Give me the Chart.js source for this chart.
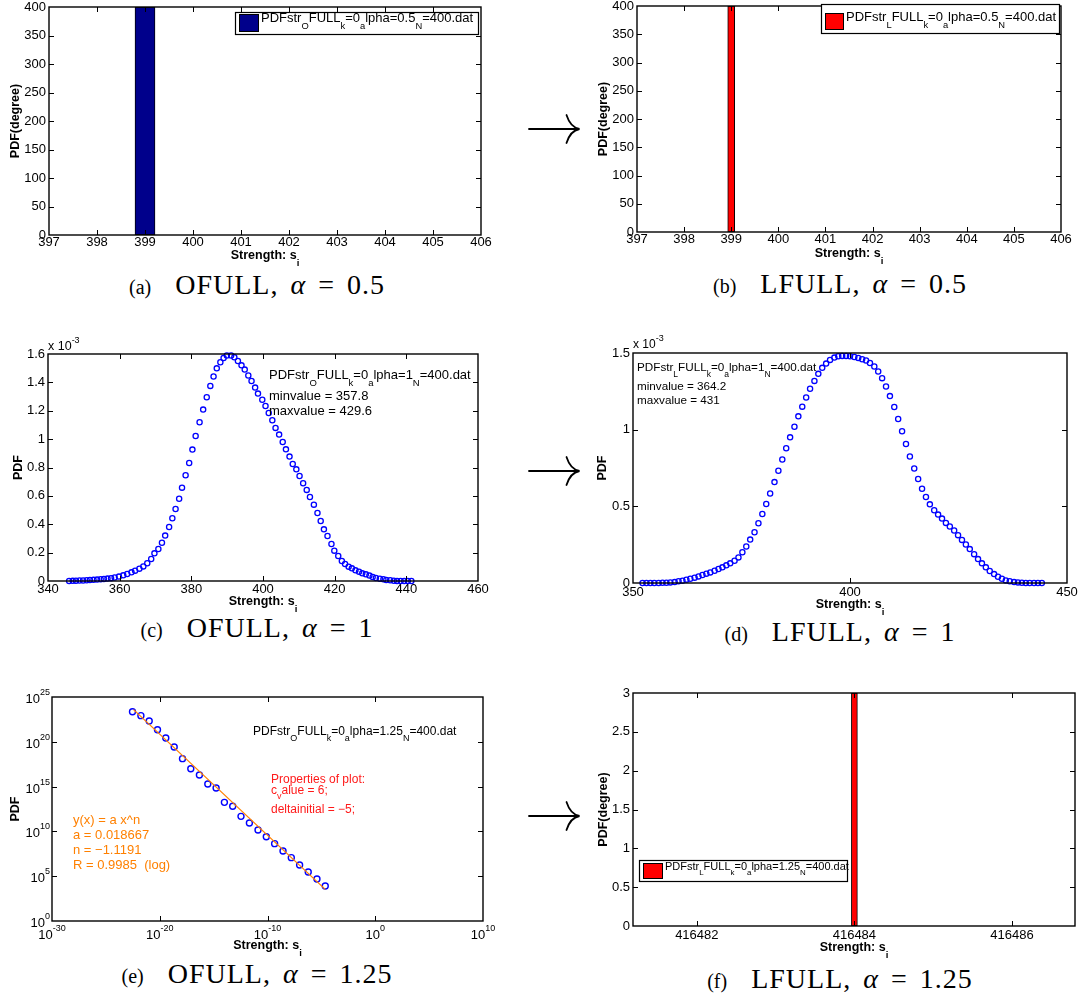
<!DOCTYPE html>
<html><head><meta charset="utf-8">
<script src="https://cdn.jsdelivr.net/npm/chart.js@4.4.1/dist/chart.umd.min.js"></script>
<style>
html,body{margin:0;padding:0;background:#fff;}
#wrap{position:relative;width:1088px;height:995px;overflow:hidden;background:#fff;}
#wrap canvas{position:absolute;left:0;top:0;}
.cap{position:absolute;width:400px;text-align:center;font-family:"Liberation Serif",serif;font-size:28px;line-height:1;white-space:nowrap;letter-spacing:1px;word-spacing:4px;color:#000;}
.cap .lb{font-size:20px;letter-spacing:0;word-spacing:0;}
#arrows{position:absolute;left:0;top:0;}
</style></head>
<body>
<div id="wrap">
<svg id="arrows" width="1088" height="995" xmlns="http://www.w3.org/2000/svg">
 <g fill="none" stroke="#000" stroke-width="1.8" stroke-linecap="round">
  <path d="M529 129 H578 M566.5 115 C569 123 574 128 579.5 129 C574 130 569 135 566.5 143"/>
  <path d="M529 471 H578 M566.5 457 C569 465 574 470 579.5 471 C574 472 569 477 566.5 485"/>
  <path d="M529 816 H578 M566.5 802 C569 810 574 815 579.5 816 C574 817 569 822 566.5 830"/>
 </g>
</svg>
<div class="cap" style="left:57px;top:270.5px"><span class="lb">(a)</span>&nbsp; OFULL, <i>α</i> = 0.5</div>
<div class="cap" style="left:640px;top:269.5px"><span class="lb">(b)</span>&nbsp; LFULL, <i>α</i> = 0.5</div>
<div class="cap" style="left:57px;top:614px"><span class="lb">(c)</span>&nbsp; OFULL, <i>α</i> = 1</div>
<div class="cap" style="left:640px;top:618px"><span class="lb">(d)</span>&nbsp; LFULL, <i>α</i> = 1</div>
<div class="cap" style="left:57px;top:959.5px"><span class="lb">(e)</span>&nbsp; OFULL, <i>α</i> = 1.25</div>
<div class="cap" style="left:640px;top:964.5px"><span class="lb">(f)</span>&nbsp; LFULL, <i>α</i> = 1.25</div>
</div>
<script>
// ---------------- DATA ----------------
// (a) OFULL alpha=0.5 : histogram bar
const aX = [399];
const aY = [400];
// (b) LFULL alpha=0.5
const bX = [399];
const bY = [400];
// shared ticks for (a),(b)
const abXTicks = [397, 398, 399, 400, 401, 402, 403, 404, 405, 406];
const abYTicks = [0, 50, 100, 150, 200, 250, 300, 350, 400];

// (c) OFULL alpha=1 : PDF (values in units of 1e-3)
const cX = [345.9,346.9,347.8,348.8,349.8,350.8,351.7,352.7,353.7,354.7,355.6,356.6,357.6,358.6,
 359.8,361.0,362.1,363.3,364.3,365.5,366.6,367.7,368.8,369.7,370.8,371.8,372.7,373.8,374.7,375.6,
 376.6,377.4,378.4,379.4,380.3,381.2,382.3,383.3,384.3,385.3,386.2,387.1,388.1,389.0,389.9,391.1,
 392.0,393.0,394.0,394.9,395.9,396.8,397.8,398.6,399.8,400.7,401.6,402.6,403.5,404.5,405.5,406.4,
 407.4,408.3,409.3,410.2,411.2,412.2,413.1,414.2,415.2,416.1,417.0,418.0,419.1,419.9,421.0,422.0,
 422.9,423.9,424.8,425.8,426.8,427.7,428.7,429.7,430.6,431.5,432.6,433.6,434.4,435.5,436.5,437.4,
 438.4,439.4,440.4,441.4];
const cY = [0.000,0.001,0.002,0.003,0.004,0.005,0.007,0.008,0.010,0.012,0.014,0.017,0.020,0.025,
 0.031,0.040,0.049,0.061,0.073,0.087,0.103,0.125,0.155,0.195,
 0.226,0.270,0.320,0.381,0.442,0.508,0.580,0.658,0.745,0.832,
 0.926,1.022,1.119,1.208,1.295,1.375,1.441,1.499,1.542,1.572,
 1.589,1.589,1.577,1.551,1.520,1.490,1.448,1.410,1.363,1.321,
 1.278,1.234,1.184,1.133,1.079,1.032,0.980,0.928,0.877,0.825,
 0.787,0.740,0.689,0.642,0.592,0.538,0.479,0.423,0.364,0.317,
 0.261,0.214,0.176,0.141,0.120,0.101,0.089,0.075,0.066,0.054,
 0.047,0.038,0.028,0.021,0.016,0.012,0.007,0.005,0.002,0,0,0,0,0];
const cXTicks = [340, 360, 380, 400, 420, 440, 460];
const cYTicks = [0, 0.2, 0.4, 0.6, 0.8, 1, 1.2, 1.4, 1.6];

// (d) LFULL alpha=1 : PDF (units of 1e-3)
const dX = [352.2,353.1,354.0,354.9,355.9,356.8,357.7,358.6,359.6,360.5,361.4,362.3,363.2,364.2,365.1,
 366.0,366.9,367.8,368.8,369.7,370.6,371.5,372.4,373.4,374.3,375.2,376.1,377.0,378.0,378.9,379.8,
 380.7,381.6,382.6,383.5,384.4,385.3,386.2,387.2,388.1,389.0,389.9,390.8,391.8,392.7,393.6,394.5,
 395.4,396.4,397.3,398.2,399.1,400.0,401.0,401.9,402.8,403.7,404.6,405.6,406.5,407.4,408.3,409.2,
 410.2,411.1,412.0,412.9,413.8,414.8,415.7,416.6,417.5,418.4,419.4,420.3,421.2,422.1,423.0,424.0,
 424.9,425.8,426.7,427.6,428.6,429.5,430.4,431.3,432.2,433.2,434.1,435.0,435.9,436.8,437.8,438.7,
 439.6,440.5,441.4,442.4,443.3,444.2];
const dY = [0,0,0,0,0,0.002,0.002,0.004,0.006,0.011,
 0.015,0.022,0.028,0.035,0.043,0.052,0.061,0.069,0.080,0.091,
 0.102,0.115,0.128,0.145,0.167,0.201,0.238,0.283,0.331,0.390,
 0.450,0.515,0.584,0.658,0.732,0.805,0.879,0.950,1.019,1.087,
 1.150,1.210,1.267,1.318,1.364,1.403,1.431,1.455,1.470,1.479,
 1.481,1.481,1.479,1.474,1.468,1.459,1.451,1.435,1.412,1.379,
 1.336,1.282,1.219,1.148,1.070,0.990,0.907,0.825,0.747,0.678,
 0.615,0.561,0.513,0.474,0.446,0.420,0.392,0.368,0.342,0.312,
 0.281,0.251,0.221,0.188,0.156,0.128,0.102,0.078,0.058,0.041,
 0.028,0.017,0.011,0.006,0.004,0.002,0,0,0,0,0];
const dXTicks = [350, 400, 450];
const dYTicks = [0, 0.5, 1, 1.5];

// (e) OFULL alpha=1.25 : log-log PDF and power-law fit
const eX = [2.95e-23,1.78e-22,1.05e-21,6.17e-21,3.63e-20,2.19e-19,1.29e-18,7.59e-18,4.79e-17,2.88e-16,
 1.70e-15,1.00e-14,5.89e-14,3.47e-13,2.09e-12,1.32e-11,7.76e-11,4.57e-10,2.75e-9,1.62e-8,
 9.55e-8,6.03e-7,3.89e-6,2.29e-5];
const eY = [2.29e23,8.32e22,2.09e22,2.24e21,2.63e20,2.63e19,1.32e18,1.00e17,1.95e16,1.95e15,
 6.92e14,1.74e13,6.31e12,4.79e11,8.71e10,1.45e10,2.57e9,4.27e8,6.46e7,1.17e7,
 1.78e6,2.95e5,4.90e4,8.13e3];
const eFitX = [3.7e-23, 2.29e-5];
const eFitY = [3.9e23, 3.4e3];
const eXTicks = [1e-30, 1e-20, 1e-10, 1, 1e10];
const eYTicks = [1, 1e5, 1e10, 1e15, 1e20, 1e25];

// (f) LFULL alpha=1.25 : histogram bar
const fX = [416484];
const fY = [3];
const fXTicks = [416482, 416484, 416486];
const fYTicks = [0, 0.5, 1, 1.5, 2, 2.5, 3];

// ---------------- RENDERING ----------------
const W = 1088, H = 995, YW = 40, XH = 30;
Chart.defaults.font.family = 'Liberation Sans';
Chart.defaults.color = '#000';
const wrap = document.getElementById('wrap');

function parseRich(str) {
  const segs = []; const re = /([_^])\{([^}]*)\}|((?:[^_^]|[_^](?!\{))+)/g; let m;
  while ((m = re.exec(str))) {
    if (m[1]) segs.push([m[2], m[1] === '_' ? 1 : 2]); else segs.push([m[3], 0]);
  }
  return segs;
}
function drawRich(ctx, str, x, y, o) {
  const size = o.size || 12.5, fam = o.family || 'Liberation Sans', wt = o.weight || 'normal';
  const ss = o.subSize || size * 0.72;
  const drop = o.drop != null ? o.drop : size * 0.5;
  const rise = o.rise != null ? o.rise : size * 0.45;
  const segs = parseRich(str);
  let total = 0;
  segs.forEach(s => { ctx.font = wt + ' ' + (s[1] ? ss : size) + 'px "' + fam + '"'; s.w = ctx.measureText(s[0]).width; total += s.w; });
  let cx = o.align === 'center' ? x - total / 2 : o.align === 'right' ? x - total : x;
  ctx.fillStyle = o.color || '#000'; ctx.textBaseline = 'alphabetic'; ctx.textAlign = 'left';
  segs.forEach(s => {
    ctx.font = wt + ' ' + (s[1] ? ss : size) + 'px "' + fam + '"';
    const dy = s[1] === 1 ? drop : s[1] === 2 ? -rise : 0;
    ctx.fillText(s[0], cx, y + dy); cx += s.w;
  });
  return total;
}

function makePlugin(spec) {
  return {
    id: 'mat',
    afterDatasetsDraw(chart) {
      const ctx = chart.ctx, a = chart.chartArea, xs = chart.scales.x, ys = chart.scales.y, tl = 5;
      ctx.save();
      ctx.strokeStyle = '#000'; ctx.lineWidth = 1;
      ctx.beginPath();
      xs.ticks.forEach(t => {
        const p = Math.round(xs.getPixelForValue(t.value)) + 0.5;
        if (p <= a.left + 1 || p >= a.right - 1) return;
        ctx.moveTo(p, a.bottom); ctx.lineTo(p, a.bottom - tl);
        ctx.moveTo(p, a.top); ctx.lineTo(p, a.top + tl);
      });
      ys.ticks.forEach(t => {
        const p = Math.round(ys.getPixelForValue(t.value)) + 0.5;
        if (p <= a.top + 1 || p >= a.bottom - 1) return;
        ctx.moveTo(a.left, p); ctx.lineTo(a.left + tl, p);
        ctx.moveTo(a.right, p); ctx.lineTo(a.right - tl, p);
      });
      ctx.stroke();
      ctx.lineWidth = 1.4;
      ctx.strokeRect(a.left, a.top, a.right - a.left, a.bottom - a.top);
      ctx.restore();
    },
    afterDraw(chart) {
      const ctx = chart.ctx, a = chart.chartArea;
      ctx.save();
      const L = spec.legend;
      if (L) {
        const b = L.box, p = L.patch;
        ctx.fillStyle = '#fff'; ctx.fillRect(b[0], b[1], b[2] - b[0], b[3] - b[1]);
        ctx.strokeStyle = '#000'; ctx.lineWidth = 1.2;
        ctx.strokeRect(b[0] + 0.5, b[1] + 0.5, b[2] - b[0], b[3] - b[1]);
        ctx.fillStyle = chart.data.datasets[0].backgroundColor;
        ctx.fillRect(p[0], p[1], p[2] - p[0], p[3] - p[1]);
        ctx.lineWidth = 1;
        ctx.strokeRect(p[0] + 0.5, p[1] + 0.5, p[2] - p[0], p[3] - p[1]);
        drawRich(ctx, L.text, L.x, L.y, { size: L.size, drop: L.drop });
      }
      (spec.texts || []).forEach(t => drawRich(ctx, t.text, t.x, t.y, t));
      drawRich(ctx, 'Strength: s_{i}', (a.left + a.right) / 2, a.bottom + spec.xTitleDy,
        { size: 12.5, weight: 'bold', align: 'center', drop: 6.5, subSize: 9.5 });
      ctx.save();
      ctx.translate(a.left - spec.yTitleDx, (a.top + a.bottom) / 2);
      ctx.rotate(-Math.PI / 2);
      drawRich(ctx, spec.yTitle, 0, 4, { size: 12.5, weight: 'bold', align: 'center' });
      ctx.restore();
      if (spec.logLabels) {
        const xs = chart.scales.x, ys = chart.scales.y;
        xs.ticks.forEach(t => {
          const e = Math.round(Math.log10(t.value));
          drawRich(ctx, '10^{' + e + '}', xs.getPixelForValue(t.value), a.bottom + 18,
            { size: 13, subSize: 9, rise: 8, align: 'center' });
        });
        ys.ticks.forEach(t => {
          const e = Math.round(Math.log10(t.value));
          drawRich(ctx, '10^{' + e + '}', a.left - 2, ys.getPixelForValue(t.value) + 6,
            { size: 13, subSize: 9, rise: 8, align: 'right' });
        });
      }
      ctx.restore();
    }
  };
}

function axis(kind, type, min, max, ticks, pad, hide) {
  const isX = kind === 'x';
  return {
    type: type, min: min, max: max, offset: false,
    grid: { display: false, drawTicks: false, offset: false },
    border: { display: false },
    ticks: {
      display: !hide, padding: pad, autoSkip: false, maxRotation: 0, minRotation: 0,
      font: { family: 'Liberation Sans', size: 13 }, color: '#000',
      callback: v => String(v)
    },
    afterBuildTicks: s => { s.ticks = ticks.map(v => ({ value: v })); },
    afterFit: s => {
      if (isX) { s.height = XH; s.paddingLeft = 0; s.paddingRight = 0; }
      else { s.width = YW; s.paddingTop = 0; s.paddingBottom = 0; }
    }
  };
}

function makeChart(spec) {
  const cv = document.createElement('canvas');
  cv.width = W; cv.height = H; cv.style.width = W + 'px'; cv.style.height = H + 'px';
  wrap.appendChild(cv);
  const r = spec.rect;
  return new Chart(cv.getContext('2d'), {
    type: spec.type,
    data: { datasets: spec.datasets },
    options: {
      responsive: false, animation: false, events: [],
      layout: { padding: { left: r[0] - YW, top: r[1], right: W - r[2], bottom: H - r[3] - XH } },
      plugins: { legend: { display: false }, tooltip: { enabled: false } },
      scales: { x: spec.x, y: spec.y }
    },
    plugins: [makePlugin(spec)]
  });
}

const pts = (xs, ys) => xs.map((x, i) => ({ x: x, y: ys[i] }));
const circleSet = (data, r, bw) => ({
  data: data, showLine: false, pointStyle: 'circle', pointRadius: r, pointBorderWidth: bw,
  pointBorderColor: '#0000ff', pointBackgroundColor: 'rgba(0,0,0,0)', clip: false, order: 1
});

// (a)
makeChart({
  type: 'bar', rect: [49, 7, 481, 235],
  datasets: [{ data: pts(aX, aY), backgroundColor: '#00008B', borderColor: '#000', borderWidth: 1, barThickness: 20, borderSkipped: false }],
  x: axis('x', 'linear', 397, 406, abXTicks, 0),
  y: axis('y', 'linear', 0, 400, abYTicks, 3),
  yTitle: 'PDF(degree)', yTitleDx: 34, xTitleDy: 24,
  legend: { box: [235, 12, 478, 34], patch: [239, 14, 258, 31], x: 261, y: 22, size: 13, drop: 6.5,
    text: 'PDFstr_{O}FULL_{k}=0_{a}lpha=0.5_{N}=400.dat' }
});
// (b)
makeChart({
  type: 'bar', rect: [637, 6, 1061, 232],
  datasets: [{ data: pts(bX, bY), backgroundColor: '#FF0000', borderColor: '#000', borderWidth: 1, barThickness: 7, borderSkipped: false }],
  x: axis('x', 'linear', 397, 406, abXTicks, 0),
  y: axis('y', 'linear', 0, 400, abYTicks, 3),
  yTitle: 'PDF(degree)', yTitleDx: 34, xTitleDy: 25,
  legend: { box: [821, 4, 1059, 33], patch: [825, 13, 843, 29], x: 846, y: 21, size: 13, drop: 6.5,
    text: 'PDFstr_{L}FULL_{k}=0_{a}lpha=0.5_{N}=400.dat' }
});
// (c)
makeChart({
  type: 'scatter', rect: [48, 354, 478, 581],
  datasets: [circleSet(pts(cX, cY), 2.6, 1.3)],
  x: axis('x', 'linear', 340, 460, cXTicks, 1),
  y: axis('y', 'linear', 0, 1.6, cYTicks, 3),
  yTitle: 'PDF', yTitleDx: 30, xTitleDy: 24,
  texts: [
    { text: 'x 10^{-3}', x: 48, y: 350, size: 12.5, subSize: 9, rise: 7 },
    { text: 'PDFstr_{O}FULL_{k}=0_{a}lpha=1_{N}=400.dat', x: 269, y: 379, size: 13, subSize: 9.5, drop: 6.5 },
    { text: 'minvalue = 357.8', x: 269, y: 400, size: 13 },
    { text: 'maxvalue = 429.6', x: 269, y: 415, size: 13 }
  ]
});
// (d)
makeChart({
  type: 'scatter', rect: [633, 353, 1067, 583],
  datasets: [circleSet(pts(dX, dY), 2.6, 1.3)],
  x: axis('x', 'linear', 350, 450, dXTicks, 2),
  y: axis('y', 'linear', 0, 1.5, dYTicks, 3),
  yTitle: 'PDF', yTitleDx: 31, xTitleDy: 25,
  texts: [
    { text: 'x 10^{-3}', x: 633, y: 348, size: 12, subSize: 9, rise: 7 },
    { text: 'PDFstr_{L}FULL_{k}=0_{a}lpha=1_{N}=400.dat', x: 637, y: 370.7, size: 11.7, subSize: 8.5, drop: 6 },
    { text: 'minvalue = 364.2', x: 637, y: 390, size: 11.7 },
    { text: 'maxvalue = 431', x: 637, y: 404.3, size: 11.7 }
  ]
});
// (e)
makeChart({
  type: 'scatter', rect: [52, 697, 483, 921],
  datasets: [
    circleSet(pts(eX, eY), 3, 1.4),
    { data: pts(eFitX, eFitY), showLine: true, pointRadius: 0, borderColor: '#FF8000', borderWidth: 1.3, fill: false, order: 0 }
  ],
  x: axis('x', 'logarithmic', 1e-30, 1e10, eXTicks, 0, true),
  y: axis('y', 'logarithmic', 1, 1e25, eYTicks, 0, true),
  logLabels: true,
  yTitle: 'PDF', yTitleDx: 37, xTitleDy: 28,
  texts: [
    { text: 'PDFstr_{O}FULL_{k}=0_{a}lpha=1.25_{N}=400.dat', x: 253, y: 735, size: 12, subSize: 9, drop: 6 },
    { text: 'Properties of plot:', x: 271, y: 783, size: 12, color: '#FF1A1A' },
    { text: 'c_{v}alue = 6;', x: 271, y: 794, size: 12, subSize: 9, drop: 5, color: '#FF1A1A' },
    { text: 'deltainitial = \u22125;', x: 271, y: 812.5, size: 12, color: '#FF1A1A' },
    { text: 'y(x) = a x^n', x: 73, y: 824, size: 13, color: '#FF8000' },
    { text: 'a = 0.018667', x: 73, y: 839, size: 13, color: '#FF8000' },
    { text: 'n = \u22121.1191', x: 73, y: 854, size: 13, color: '#FF8000' },
    { text: 'R = 0.9985  (log)', x: 73, y: 869, size: 13, color: '#FF8000' }
  ]
});
// (f)
makeChart({
  type: 'bar', rect: [633, 693, 1075, 926],
  datasets: [{ data: pts(fX, fY), backgroundColor: '#FF0000', borderColor: '#000', borderWidth: 1, barThickness: 6, borderSkipped: false }],
  x: axis('x', 'linear', 416481.19, 416486.8, fXTicks, 2),
  y: axis('y', 'linear', 0, 3, fYTicks, 3),
  yTitle: 'PDF(degree)', yTitleDx: 30, xTitleDy: 25,
  legend: { box: [639, 860, 847, 881], patch: [643, 863, 662, 878], x: 665, y: 869.5, size: 11, drop: 5,
    text: 'PDFstr_{L}FULL_{k}=0_{a}lpha=1.25_{N}=400.dat' }
});
</script>
</body></html>
